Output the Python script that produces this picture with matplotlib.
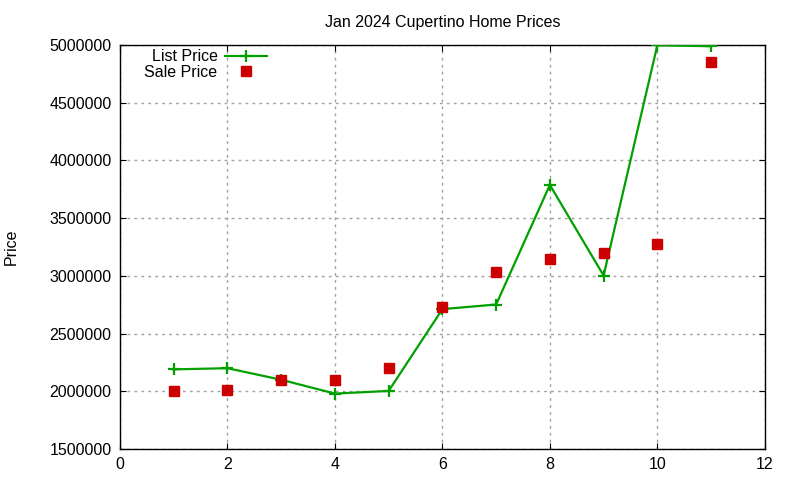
import matplotlib
matplotlib.use("Agg")
import matplotlib.pyplot as plt

plt.rcParams['font.family'] = ['Liberation Sans', 'DejaVu Sans']

# House index (x) and prices
houses = [1, 2, 3, 4, 5, 6, 7, 8, 9, 10, 11]
list_price = [2190000, 2200000, 2100000, 1980000, 2003000, 2712000,
              2752000, 3788000, 3003000, 4998000, 4990000]
sale_price = [2000000, 2011000, 2097000, 2097000, 2200000, 2733000,
              3035000, 3148000, 3200000, 3280000, 4853000]

y_ticks = [1500000, 2000000, 2500000, 3000000, 3500000, 4000000, 4500000, 5000000]
x_ticks = [0, 2, 4, 6, 8, 10, 12]

fig = plt.figure(figsize=(8, 4.8), dpi=100)
ax = fig.add_axes([0.15, 0.0646, 0.806, 0.8415])

ax.plot(houses, list_price, color="#00a000", linewidth=1.6, marker="+",
        markersize=9, markeredgewidth=1.6, label="List Price", zorder=3)
ax.plot(houses, sale_price, linestyle="none", color="#cc0000", marker="s",
        markersize=6.5, label="Sale Price", zorder=4)

ax.set_xlim(0, 12)
ax.set_ylim(1500000, 5000000)
ax.set_xticks(x_ticks)
ax.set_yticks(y_ticks)
ax.ticklabel_format(style="plain", axis="y", useOffset=False)
ax.tick_params(direction="in", top=True, right=True, labelsize=11.5, length=4, pad=6)
ax.grid(True, color="#a0a0a0", linestyle=(0, (2, 3)), linewidth=1)
for s in ax.spines.values():
    s.set_linewidth(1)
    s.set_color("black")

ax.set_title("Jan 2024 Cupertino Home Prices", fontsize=11.5, pad=13)
ax.set_ylabel("Price", fontsize=11.5, labelpad=22)

# gnuplot-style key: text first, then sample
ax.legend(loc="upper right", bbox_to_anchor=(0.228, 0.99), frameon=False,
          markerfirst=False, fontsize=11.5, handlelength=2.6, labelspacing=0.05,
          borderpad=0, borderaxespad=0, handletextpad=0.5)

fig.savefig("out.png", dpi=100)
